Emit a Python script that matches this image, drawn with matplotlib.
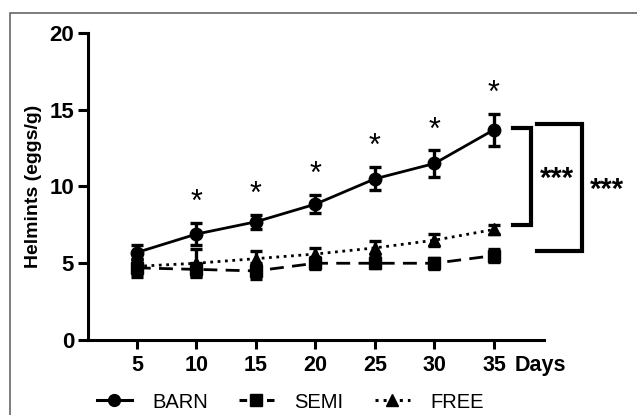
import matplotlib
matplotlib.use('Agg')
import matplotlib.pyplot as plt
from matplotlib.lines import Line2D
from matplotlib.patches import Rectangle

plt.rcParams['font.family'] = ['Liberation Sans', 'DejaVu Sans']

days = [5, 10, 15, 20, 25, 30, 35]
barn = [5.7, 6.9, 7.7, 8.85, 10.5, 11.5, 13.7]
barn_err = [0.5, 0.7, 0.45, 0.6, 0.75, 0.85, 1.05]
semi = [4.7, 4.6, 4.5, 5.0, 5.0, 5.0, 5.5]
semi_err = [0.6, 0.4, 0.5, 0.4, 0.3, 0.35, 0.45]
free = [4.8, 5.0, 5.3, 5.6, 6.0, 6.5, 7.2]
free_err = [0.5, 0.9, 0.5, 0.4, 0.45, 0.4, 0.3]
star_days = [10, 15, 20, 25, 30, 35]

fig = plt.figure(figsize=(6.37, 4.15), dpi=100)
fig.patches.append(Rectangle((10/637, -0.1), 1.2, (415-13)/415 + 0.1,
                             transform=fig.transFigure, fill=False,
                             edgecolor='#666666', lw=1.2))
ax = fig.add_axes([88/637, 75/415, (544-88)/637, (340-33)/415])

kw = dict(color='black', lw=2, capsize=4.5, capthick=2.4, elinewidth=2.4)
ax.errorbar(days, barn, yerr=barn_err, fmt='-o', ms=9, **kw)
ax.errorbar(days, semi, yerr=semi_err, fmt='--s', ms=8.5, dashes=(5, 3), **kw)
ax.errorbar(days, free, yerr=free_err, fmt=':^', ms=8.5, **kw)

for d, v, e in zip(days, barn, barn_err):
    if d in star_days:
        ax.text(d, v + e + 1.3, '*', ha='center', va='center', fontsize=22)

ax.set_xlim(0.9, 39.2)
ax.set_ylim(0, 20)
ax.set_xticks(days)
ax.set_yticks([0, 5, 10, 15, 20])
for s in ['top', 'right']:
    ax.spines[s].set_visible(False)
for s in ['left', 'bottom']:
    ax.spines[s].set_linewidth(2.2)
ax.tick_params(axis='x', width=2.2, length=6.5, labelsize=15.5, pad=4)
ax.tick_params(axis='y', width=2.2, length=7, labelsize=16, pad=3)
for t in ax.get_xticklabels() + ax.get_yticklabels():
    t.set_fontweight('bold')
ax.set_ylabel('Helmints (eggs/g)', fontsize=14, fontweight='bold', labelpad=5)
ax.text(38.9, -1.65, 'Days', ha='center', va='center', fontsize=15.5,
        fontweight='bold', clip_on=False)

# significance brackets
ax.plot([36.6, 38.1, 38.1, 36.6], [13.8, 13.8, 7.5, 7.5], color='black',
        lw=3, clip_on=False, solid_joinstyle='miter')
ax.text(40.3, 10.5, '***', ha='center', va='center', fontsize=21,
        fontweight='bold', clip_on=False)
ax.plot([38.6, 42.4, 42.4, 38.6], [14.1, 14.1, 5.8, 5.8], color='black',
        lw=3, clip_on=False, solid_joinstyle='miter')
ax.text(44.5, 9.8, '***', ha='center', va='center', fontsize=21,
        fontweight='bold', clip_on=False)

handles = [
    Line2D([], [], color='black', lw=2.2, marker='o', ms=8.5),
    Line2D([], [], color='black', lw=2.2, ls='--', dashes=(2.5, 2), marker='s', ms=8),
    Line2D([], [], color='black', lw=2.2, ls=':', marker='^', ms=8),
]
fig.legend(handles, ['BARN', 'SEMI', 'FREE'], loc='center',
           bbox_to_anchor=(290/637, 1 - 402/415), ncol=3, frameon=False,
           fontsize=14.5, handlelength=1.75, columnspacing=1.55,
           handletextpad=1.0, borderpad=0, borderaxespad=0)

fig.savefig('out.png', dpi=100)
